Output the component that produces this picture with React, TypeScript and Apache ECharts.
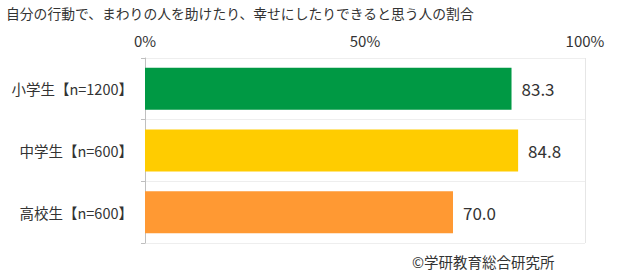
import React, { useEffect, useRef } from "react";
import * as echarts from "echarts";

const title = "自分の行動で、まわりの人を助けたり、幸せにしたりできると思う人の割合";
const categories = ["小学生【n=1200】", "中学生【n=600】", "高校生【n=600】"];
const values = [83.3, 84.8, 70.0];
const barColors = ["#009944", "#FFCC00", "#FF9933"];
const axisTicks = [0, 50, 100];
const credit = "©学研教育総合研究所";

const FONT = "'Noto Sans CJK JP', 'Noto Sans', sans-serif";

export default function App() {
  const ref = useRef<HTMLDivElement>(null);
  useEffect(() => {
    if (!ref.current) return;
    const chart = echarts.init(ref.current, undefined, { renderer: "svg" });
    chart.setOption({
      animation: false,
      backgroundColor: "#ffffff",
      textStyle: { fontFamily: FONT },
      title: [
        {
          text: title,
          left: 6,
          top: 4,
          padding: 0,
          textStyle: { fontSize: 13.8, lineHeight: 18, fontWeight: "normal", color: "#333", fontFamily: FONT },
        },
        {
          text: credit,
          left: 412,
          top: 253,
          padding: 0,
          textStyle: { fontSize: 14.5, lineHeight: 17, fontWeight: "normal", color: "#333", fontFamily: FONT },
        },
      ],
      grid: { left: 145, right: 35, top: 58, bottom: 28, containLabel: false },
      xAxis: {
        type: "value",
        position: "top",
        min: 0,
        max: 100,
        interval: 50,
        axisLine: { show: false },
        axisTick: { show: false },
        axisLabel: {
          fontSize: 15,
          color: "#333",
          fontFamily: FONT,
          margin: 10,
          formatter: (v: number) => (axisTicks.includes(v) ? v + "%" : ""),
        },
        splitLine: {
          show: true,
          lineStyle: { color: ["rgba(0,0,0,0)", "rgba(0,0,0,0)", "#e6e6e6"], width: 1 },
        },
      },
      yAxis: {
        type: "category",
        data: categories,
        inverse: true,
        axisLine: { show: true, lineStyle: { color: "#bfbfbf", width: 1 } },
        axisTick: { show: true, length: 4, lineStyle: { color: "#bfbfbf" } },
        axisLabel: { fontSize: 14.5, color: "#333", fontFamily: FONT, margin: 12 },
        splitLine: { show: true, lineStyle: { color: "#eeeeee", width: 1 } },
      },
      series: [
        {
          type: "bar",
          data: values.map((v, i) => ({ value: v, itemStyle: { color: barColors[i] } })),
          barCategoryGap: "32%",
          label: {
            show: true,
            position: "right",
            distance: 10,
            fontSize: 17,
            color: "#333",
            fontFamily: FONT,
            formatter: (p: any) => Number(p.value).toFixed(1),
          },
        },
      ],
    });
    return () => chart.dispose();
  }, []);
  return <div ref={ref} style={{ width: 620, height: 271, position: "absolute", left: 0, top: 0 }} />;
}
